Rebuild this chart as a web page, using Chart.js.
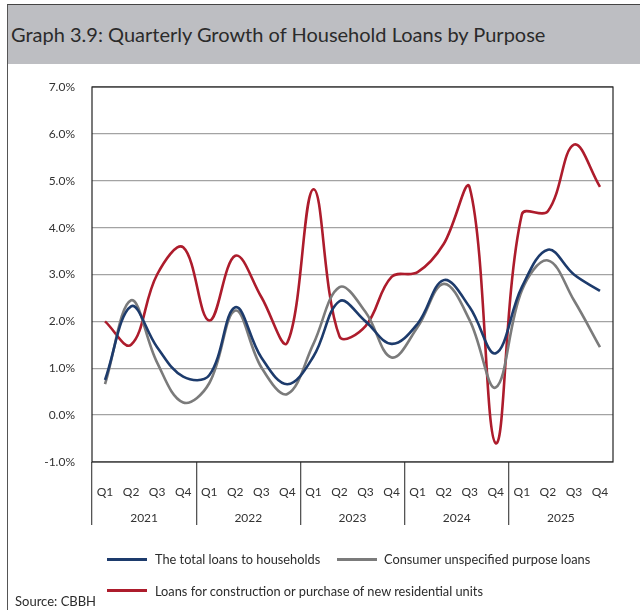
<!DOCTYPE html>
<html>
<head>
<meta charset="utf-8">
<script src="https://cdn.jsdelivr.net/npm/chart.js@4.4.1/dist/chart.umd.min.js"></script>
<style>
  html, body { margin: 0; padding: 0; background: #fff; }
  body { width: 640px; height: 610px; position: relative; overflow: hidden; font-family: Lato, "Open Sans", sans-serif; color: #2b2b2b; }
  #frame { position: absolute; left: 7px; top: 4px; width: 633px; height: 606px; border-left: 1px solid #555; border-top: 1px solid #444; box-sizing: border-box; }
  #band { position: absolute; left: 8px; top: 5px; width: 632px; height: 59px; background: #bdbec2; }
  #title { position: absolute; left: 11px; top: 21px; font-size: 20px; line-height: 26px; white-space: nowrap; color: #2b2b2b; }
  #chart { position: absolute; left: 0; top: 0; }
  .leg { position: absolute; font-size: 12.8px; line-height: 16px; white-space: nowrap; color: #2b2b2b; }
  .legline { position: absolute; height: 3px; width: 40px; }
  #source { position: absolute; left: 15px; top: 593px; font-size: 13px; line-height: 16px; color: #2b2b2b; }
</style>
</head>
<body>
<div id="frame"></div>
<div id="band"></div>
<div id="title">Graph 3.9: Quarterly Growth of Household Loans by Purpose</div>
<canvas id="chart" width="640" height="610"></canvas>
<div id="legend"></div>
<div id="source">Source: CBBH</div>
<script>
// ---- data ----
const quarterLabels = ['Q1','Q2','Q3','Q4','Q1','Q2','Q3','Q4','Q1','Q2','Q3','Q4','Q1','Q2','Q3','Q4','Q1','Q2','Q3','Q4'];
const yearLabels = ['2021','2022','2023','2024','2025'];
const seriesNames = [
  'The total loans to households',
  'Consumer unspecified purpose loans',
  'Loans for construction or purchase of new residential units'
];
const totalLoans = [0.75, 2.32, 1.45, 0.82, 0.85, 2.30, 1.23, 0.66, 1.25, 2.43, 2.00, 1.52, 1.95, 2.88, 2.30, 1.32, 2.73, 3.53, 3.00, 2.65];
const consumerLoans = [0.66, 2.45, 1.12, 0.27, 0.68, 2.23, 1.02, 0.45, 1.52, 2.73, 2.20, 1.23, 1.88, 2.80, 2.02, 0.59, 2.66, 3.30, 2.45, 1.45];
const constructionLoans = [2.00, 1.50, 3.00, 3.58, 2.02, 3.40, 2.52, 1.55, 4.82, 1.68, 1.90, 2.95, 3.05, 3.65, 4.85, -0.60, 4.28, 4.35, 5.77, 4.87];
const yTicks = [-1, 0, 1, 2, 3, 4, 5, 6, 7];

const colors = ['#1d3b6c', '#7b7b7b', '#ad1c2c'];

const framePlugin = {
  id: 'frame',
  afterDraw(chart) {
    const a = chart.chartArea, ctx = chart.ctx;
    ctx.save();
    ctx.strokeStyle = '#222';
    ctx.lineWidth = 1.2;
    ctx.strokeRect(a.left, a.top, a.right - a.left, a.bottom - a.top);
    ctx.restore();
  }
};

const tickFont = { family: 'Lato, "Open Sans", sans-serif', size: 12 };

new Chart(document.getElementById('chart'), {
  type: 'line',
  data: {
    labels: quarterLabels,
    datasets: [
      { label: seriesNames[0], data: totalLoans, borderColor: colors[0], order: 1 },
      { label: seriesNames[1], data: consumerLoans, borderColor: colors[1], order: 2 },
      { label: seriesNames[2], data: constructionLoans, borderColor: colors[2], order: 3 }
    ]
  },
  options: {
    responsive: false,
    animation: false,
    devicePixelRatio: 1,
    layout: { padding: { top: 87, right: 27, left: 0, bottom: 74 } },
    elements: {
      line: { borderWidth: 2.6, tension: 0.38, fill: false },
      point: { radius: 0, hoverRadius: 0 }
    },
    plugins: { legend: { display: false }, tooltip: { enabled: false } },
    scales: {
      y: {
        min: -1, max: 7,
        afterFit(s) { s.width = 92; },
        afterBuildTicks(s) { s.ticks = yTicks.map(v => ({ value: v })); },
        grid: { color: '#a3a3a3', lineWidth: 1.3, drawTicks: false },
        border: { display: false },
        ticks: { padding: 17, color: '#333', font: tickFont, callback: v => v.toFixed(1) + '%' }
      },
      x: {
        offset: true,
        afterFit(s) { s.height = 44; },
        grid: {
          offset: true,
          drawOnChartArea: false,
          drawTicks: true,
          tickLength: 63,
          lineWidth: 1.3,
          color: ctx => (ctx.index % 4 === 0 ? '#555' : 'rgba(0,0,0,0)')
        },
        border: { display: false },
        ticks: { padding: -40, color: '#333', font: tickFont, maxRotation: 0, autoSkip: false }
      },
      x2: {
        type: 'category',
        labels: yearLabels,
        position: 'bottom',
        offset: true,
        afterFit(s) { s.height = 30; },
        grid: { display: false, drawTicks: false },
        border: { display: false },
        ticks: { padding: 5, color: '#333', font: tickFont, maxRotation: 0 }
      }
    }
  },
  plugins: [framePlugin]
});

// HTML legend built from series names / colours
const legendPos = [
  { lx: 107, ly: 558, tx: 155, ty: 551 },
  { lx: 337, ly: 558, tx: 384, ty: 551 },
  { lx: 107, ly: 589, tx: 155, ty: 583 }
];
const legend = document.getElementById('legend');
seriesNames.forEach((name, i) => {
  const p = legendPos[i];
  const ln = document.createElement('div');
  ln.className = 'legline';
  ln.style.left = p.lx + 'px'; ln.style.top = p.ly + 'px'; ln.style.background = colors[i];
  legend.appendChild(ln);
  const tx = document.createElement('div');
  tx.className = 'leg';
  tx.style.left = p.tx + 'px'; tx.style.top = p.ty + 'px';
  tx.textContent = name;
  legend.appendChild(tx);
});
</script>
</body>
</html>
